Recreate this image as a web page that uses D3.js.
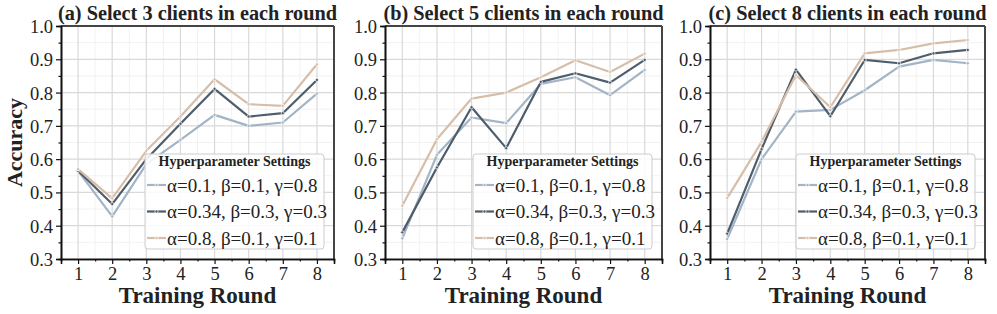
<!DOCTYPE html>
<html lang="en">
  <head>
    <title>Accuracy per training round</title>
    <script src="https://d3js.org/d3.v7.min.js"></script>
    <style>
      body { margin: 0; background: #fff; }
      text { font-family: "Liberation Serif", "Times New Roman", serif; fill: #222; }
    </style>
  </head>
  <body>
  <script>
  const rounds = [1, 2, 3, 4, 5, 6, 7, 8];
  const yTicks = [0.3, 0.4, 0.5, 0.6, 0.7, 0.8, 0.9, 1.0];

  const panelTitles = [
    "(a) Select 3 clients in each round",
    "(b) Select 5 clients in each round",
    "(c) Select 8 clients in each round"
  ];

  const seriesNames = [
    "α=0.1, β=0.1, γ=0.8",
    "α=0.34, β=0.3, γ=0.3",
    "α=0.8, β=0.1, γ=0.1"
  ];
  const seriesColors = ["#a3b4c6", "#4e5d6c", "#d6bea9"];

  // accuracy per round, one array per setting
  const clients3Light = [0.565, 0.428, 0.585, 0.658, 0.733, 0.700, 0.710, 0.797];
  const clients3Dark  = [0.565, 0.465, 0.600, 0.706, 0.811, 0.728, 0.738, 0.838];
  const clients3Tan   = [0.570, 0.482, 0.625, 0.728, 0.840, 0.765, 0.760, 0.885];

  const clients5Light = [0.362, 0.613, 0.725, 0.708, 0.826, 0.846, 0.792, 0.868];
  const clients5Dark  = [0.380, 0.575, 0.756, 0.633, 0.832, 0.858, 0.830, 0.898];
  const clients5Tan   = [0.460, 0.660, 0.782, 0.800, 0.846, 0.897, 0.862, 0.917];

  const clients8Light = [0.360, 0.600, 0.743, 0.748, 0.807, 0.878, 0.898, 0.888];
  const clients8Dark  = [0.376, 0.630, 0.869, 0.729, 0.898, 0.888, 0.918, 0.928];
  const clients8Tan   = [0.483, 0.652, 0.853, 0.756, 0.918, 0.928, 0.948, 0.958];

  const panelData = [
    [clients3Light, clients3Dark, clients3Tan],
    [clients5Light, clients5Dark, clients5Tan],
    [clients8Light, clients8Dark, clients8Tan]
  ];

  const width = 997, height = 314;
  const plotTop = 26, plotBottom = 259;
  const panels = [
    { left: 61, right: 334 },
    { left: 385, right: 662 },
    { left: 710, right: 985 }
  ];

  const svg = d3.select(document.body).append("svg")
    .attr("width", width).attr("height", height);

  const y = d3.scaleLinear().domain([0.3, 1.0]).range([plotBottom, plotTop]);

  panels.forEach(function(p, pi) {
    const x = d3.scaleLinear().domain([0.5, 8.5]).range([p.left, p.right]);
    const g = svg.append("g");

    // minor grid
    const minorX = [0.5, 1.5, 2.5, 3.5, 4.5, 5.5, 6.5, 7.5, 8.5];
    const minorY = [0.35, 0.45, 0.55, 0.65, 0.75, 0.85, 0.95];
    g.selectAll(".mgx").data(minorX).enter().append("line")
      .attr("x1", d => x(d)).attr("x2", d => x(d))
      .attr("y1", plotTop).attr("y2", plotBottom)
      .attr("stroke", "#efefef").attr("stroke-width", 0.8);
    g.selectAll(".mgy").data(minorY).enter().append("line")
      .attr("x1", p.left).attr("x2", p.right)
      .attr("y1", d => y(d)).attr("y2", d => y(d))
      .attr("stroke", "#efefef").attr("stroke-width", 0.8);

    // major grid
    g.selectAll(".gx").data(rounds).enter().append("line")
      .attr("x1", d => x(d)).attr("x2", d => x(d))
      .attr("y1", plotTop).attr("y2", plotBottom)
      .attr("stroke", "#d9d9d9").attr("stroke-width", 1.2);
    g.selectAll(".gy").data(yTicks).enter().append("line")
      .attr("x1", p.left).attr("x2", p.right)
      .attr("y1", d => y(d)).attr("y2", d => y(d))
      .attr("stroke", "#d9d9d9").attr("stroke-width", 1.2);

    // lines
    const line = d3.line().x((d, i) => x(rounds[i])).y(d => y(d));
    panelData[pi].forEach(function(vals, si) {
      g.append("path").datum(vals)
        .attr("d", line)
        .attr("fill", "none")
        .attr("stroke", seriesColors[si])
        .attr("stroke-width", 2.2)
        .attr("stroke-linejoin", "round");
      g.selectAll(".pt" + si).data(vals).enter().append("circle")
        .attr("cx", (d, i) => x(rounds[i])).attr("cy", d => y(d))
        .attr("r", 1.6)
        .attr("fill", seriesColors[si])
        .attr("stroke", "#fff").attr("stroke-width", 0.7);
    });

    // frame
    g.append("line").attr("x1", p.left).attr("x2", p.right).attr("y1", plotTop).attr("y2", plotTop)
      .attr("stroke", "#444").attr("stroke-width", 2);
    g.append("line").attr("x1", p.right).attr("x2", p.right).attr("y1", plotTop).attr("y2", plotBottom)
      .attr("stroke", "#444").attr("stroke-width", 2);

    // axes
    const xAxis = d3.axisBottom(x).tickValues(rounds).tickSize(5).tickPadding(3).tickFormat(d3.format("d"));
    const xMinor = d3.axisBottom(x).tickValues(minorX.slice(1, -1)).tickSize(2.5).tickFormat("");
    const yAxis = d3.axisLeft(y).tickValues(yTicks).tickSize(5).tickPadding(3).tickFormat(d3.format(".1f"));
    const yMinor = d3.axisLeft(y).tickValues(minorY).tickSize(2.5).tickFormat("");

    [xAxis, xMinor].forEach(function(ax) {
      const a = g.append("g").attr("transform", "translate(0," + plotBottom + ")").call(ax);
      a.select(".domain").attr("stroke", "#111").attr("stroke-width", 1.6);
      a.selectAll(".tick line").attr("stroke", "#111").attr("stroke-width", 1.2);
      a.selectAll(".tick text").attr("font-size", 18.5).attr("fill", "#222");
    });
    [yAxis, yMinor].forEach(function(ax) {
      const a = g.append("g").attr("transform", "translate(" + p.left + ",0)").call(ax);
      a.select(".domain").attr("stroke", "#111").attr("stroke-width", 1.6);
      a.selectAll(".tick line").attr("stroke", "#111").attr("stroke-width", 1.2);
      a.selectAll(".tick text").attr("font-size", 18.5).attr("fill", "#222").attr("dy", "0.35em");
    });

    // title
    g.append("text")
      .attr("x", (p.left + p.right) / 2).attr("y", 20)
      .attr("text-anchor", "middle")
      .attr("font-size", 20.3).attr("font-weight", "bold")
      .text(panelTitles[pi]);

    // x label
    g.append("text")
      .attr("x", (p.left + p.right) / 2).attr("y", 303)
      .attr("text-anchor", "middle")
      .attr("font-size", 23).attr("font-weight", "bold")
      .text("Training Round");

    // legend
    const lw = 179, lh = 95;
    const lx = p.right - 10 - lw, ly = plotBottom - 10 - lh;
    const lg = g.append("g").attr("transform", "translate(" + lx + "," + ly + ")");
    lg.append("rect").attr("width", lw).attr("height", lh).attr("rx", 3)
      .attr("fill", "#fff").attr("fill-opacity", 0.85)
      .attr("stroke", "#ccc").attr("stroke-width", 1);
    lg.append("text").attr("x", lw / 2).attr("y", 12)
      .attr("text-anchor", "middle").attr("font-size", 14).attr("font-weight", "bold")
      .text("Hyperparameter Settings");
    seriesNames.forEach(function(name, si) {
      const cy = 31 + si * 26.5;
      lg.append("line").attr("x1", 2).attr("x2", 21).attr("y1", cy).attr("y2", cy)
        .attr("stroke", seriesColors[si]).attr("stroke-width", 2.2);
      lg.append("circle").attr("cx", 11.5).attr("cy", cy).attr("r", 1.6)
        .attr("fill", seriesColors[si]).attr("stroke", "#fff").attr("stroke-width", 0.7);
      lg.append("text").attr("x", 22).attr("y", cy).attr("dy", "0.35em")
        .attr("font-size", 19).text(name);
    });
  });

  // y label
  svg.append("text")
    .attr("transform", "translate(22," + ((plotTop + plotBottom) / 2) + ") rotate(-90)")
    .attr("text-anchor", "middle")
    .attr("font-size", 22).attr("font-weight", "bold")
    .text("Accuracy");
</script>
  </body>
</html>
